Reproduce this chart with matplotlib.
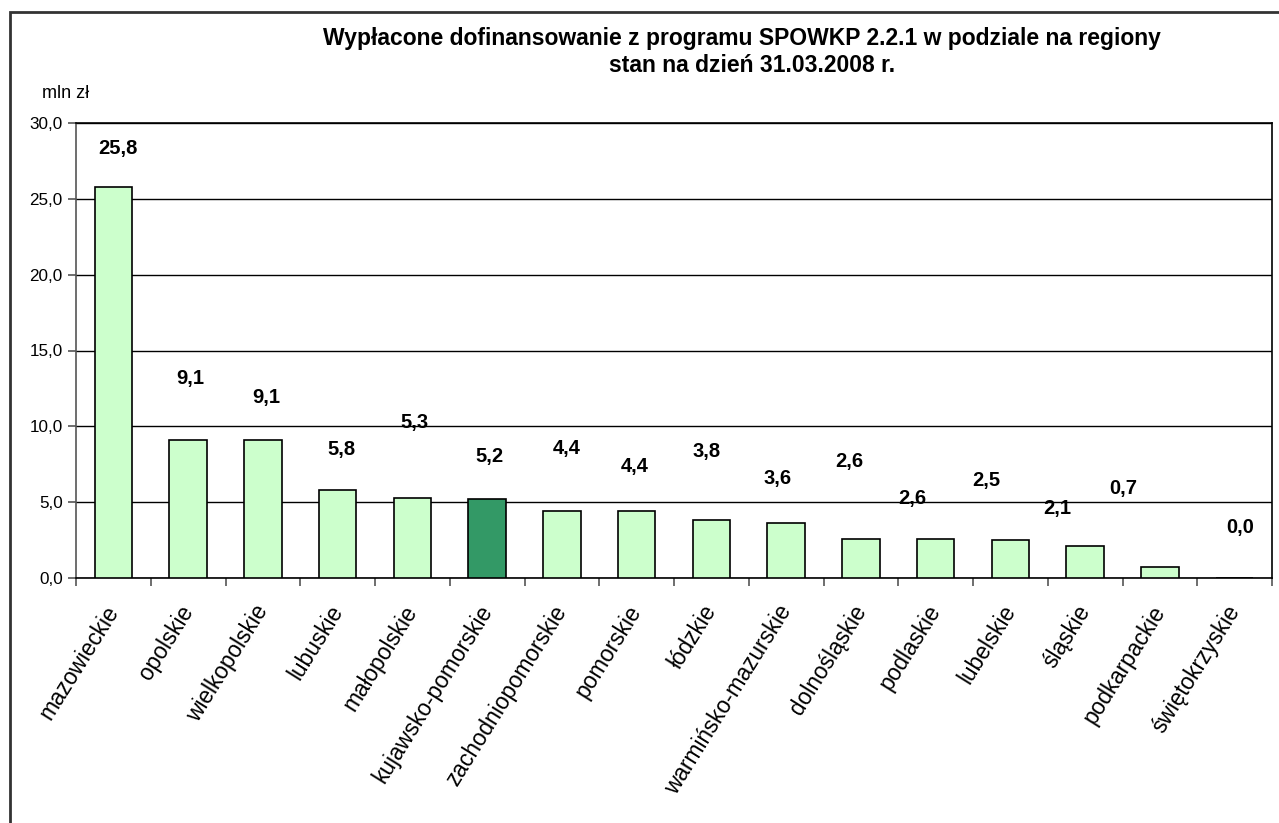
import matplotlib.pyplot as plt
import numpy as np
from matplotlib.patches import Rectangle

plt.rcParams['font.family'] = ['Liberation Sans', 'DejaVu Sans']

# ======= DATA =======
regions = ["mazowieckie", "opolskie", "wielkopolskie", "lubuskie", "małopolskie",
           "kujawsko-pomorskie", "zachodniopomorskie", "pomorskie", "łódzkie",
           "warmińsko-mazurskie", "dolnośląskie", "podlaskie", "lubelskie",
           "śląskie", "podkarpackie", "świętokrzyskie"]
values = [25.8, 9.1, 9.1, 5.8, 5.3, 5.2, 4.4, 4.4, 3.8, 3.6, 2.6, 2.6, 2.5, 2.1, 0.7, 0.0]
highlight = "kujawsko-pomorskie"
y_ticks = [0, 5, 10, 15, 20, 25, 30]

# label placement, Excel-style drift (offset above bar in data units, x shift in categories)
label_dy = [2.55, 4.08, 2.77, 2.64, 4.92, 2.78, 4.17, 2.92, 4.51, 2.99, 5.05, 2.67, 3.96, 2.51, 5.17, 3.36]
label_dx = [0.06, 0.03, 0.05, 0.05, 0.03, 0.03, 0.06, -0.03, -0.07, -0.12, -0.15, -0.31, -0.32, -0.37, -0.49, 0.07]

fig = plt.figure(figsize=(12.79, 8.23), dpi=100)
ax = fig.add_axes([76 / 1279, 1 - 578 / 823, 1196 / 1279, 455 / 823])

x = np.arange(len(regions))
colors = ["#339966" if r == highlight else "#CCFFCC" for r in regions]
ax.bar(x, values, width=0.5, color=colors, edgecolor="black", linewidth=1.2, zorder=3)

for i, v in enumerate(values):
    ax.text(x[i] + label_dx[i], v + label_dy[i], f"{v:.1f}".replace(".", ","),
            ha="center", va="center", fontsize=14.5, fontweight="bold", zorder=4)

ax.set_xlim(-0.5, len(regions) - 0.5)
ax.set_ylim(0, 30)
ax.set_yticks(y_ticks)
ax.set_yticklabels([f"{t:.1f}".replace(".", ",") for t in y_ticks], fontsize=12.3)
ax.yaxis.grid(True, color="black", linewidth=1.0, zorder=0)

ax.set_xticks(np.arange(len(regions) + 1) - 0.5)
ax.set_xticklabels([])
ax.set_xticks(x, minor=True)
ax.set_xticklabels(regions, minor=True, rotation=58, ha="right", va="center",
                   rotation_mode="anchor", fontsize=16.3)
ax.tick_params(axis="x", which="minor", length=0, pad=21)
ax.tick_params(axis="x", which="major", length=6, color="#555555", width=1.2)
ax.tick_params(axis="y", length=6, width=1.2, color="#555555")

for s in ax.spines.values():
    s.set_linewidth(1.2)
    s.set_color("black")
ax.spines["left"].set_color("#555555")

fig.text(742 / 1279, 1 - 38 / 823, "Wypłacone dofinansowanie z programu SPOWKP 2.2.1 w podziale na regiony",
         ha="center", va="center", fontsize=16.5, fontweight="bold")
fig.text(752 / 1279, 1 - 66 / 823, "stan na dzień 31.03.2008 r.",
         ha="center", va="center", fontsize=16.5, fontweight="bold")
fig.text(42 / 1279, 1 - 93 / 823, "mln zł", ha="left", va="center", fontsize=13)

# outer chart frame, running off the right and bottom edges
fig.patches.append(Rectangle((10 / 1279, -0.1), 1.2, 1 - 12 / 823 + 0.1,
                             transform=fig.transFigure, fill=False,
                             edgecolor="#333333", linewidth=2))

fig.savefig("out.png", dpi=100)
